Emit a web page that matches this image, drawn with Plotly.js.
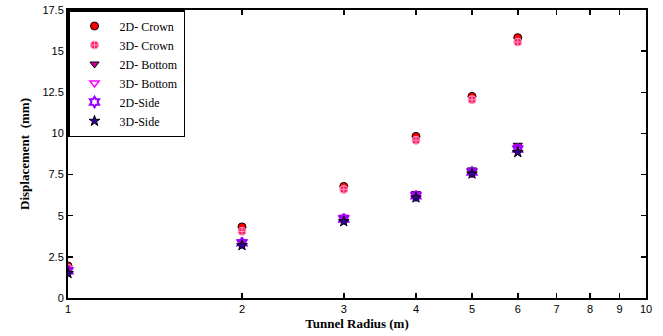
<!DOCTYPE html>
<html>
<head>
<meta charset="utf-8">
<script src="https://cdn.plot.ly/plotly-3.0.1.min.js"></script>
<style>html,body{margin:0;padding:0;background:#fff;}#chart{width:663px;height:336px;}</style>
</head>
<body>
<div id="chart"></div>
<script>
const radius = [1, 2, 3, 4, 5, 6];
const crown2D = [1.95, 4.32, 6.78, 9.82, 12.25, 15.82];
const crown3D = [1.80, 4.05, 6.60, 9.58, 12.05, 15.55];
const bottom2D = [1.70, 3.40, 4.85, 6.35, 7.78, 9.28];
const bottom3D = [1.70, 3.40, 4.90, 6.30, 7.70, 9.15];
const side2D = [1.65, 3.35, 4.80, 6.20, 7.65, 9.05];
const side3D = [1.50, 3.20, 4.65, 6.10, 7.55, 8.85];
const xTicks = [1, 2, 3, 4, 5, 6, 7, 8, 9, 10];
const yTicks = [0, 2.5, 5, 7.5, 10, 12.5, 15, 17.5];
const yTickText = ['0', '2.5', '5', '7.5', '10', '12.5', '15', '17.5'];

const mk = (name, y, symbol, size, color, lineColor, lineW) => ({
  type: 'scatter', mode: 'markers', name: name, x: radius, y: y,
  marker: {symbol: symbol, size: size, color: color, line: {color: lineColor, width: lineW}}
});

const data = [
  mk('2D- Crown', crown2D, 'circle', 8, '#ff0000', '#000000', 1),
  mk('3D- Crown', crown3D, 'circle-cross', 8, '#ff1a66', '#ff9fbf', 1),
  mk('2D- Bottom', bottom2D, 'triangle-down', 8, '#cc0099', '#000000', 1),
  mk('3D- Bottom', bottom3D, 'triangle-down-open', 8, '#ff00ff', '#ff00ff', 1.5),
  mk('2D-Side', side2D, 'hexagram-open', 8, '#9900ff', '#9900ff', 2),
  mk('3D-Side', side3D, 'star', 8, '#330099', '#000000', 1)
];

const layout = {
  width: 663, height: 336,
  margin: {l: 68, r: 17, t: 10, b: 38},
  paper_bgcolor: '#ffffff', plot_bgcolor: '#ffffff',
  showlegend: true,
  legend: {
    x: 0, y: 1, xanchor: 'left', yanchor: 'top',
    bgcolor: '#ffffff', bordercolor: '#000000', borderwidth: 1.5,
    font: {family: 'Liberation Serif, Times New Roman, serif', size: 12, color: '#000'},
    tracegroupgap: 0, itemwidth: 40
  },
  xaxis: {
    type: 'log', range: [0, 1],
    tickvals: xTicks, ticktext: xTicks.map(String),
    ticks: 'inside', ticklen: 5, tickwidth: 1.5, tickcolor: '#000',
    showline: true, linecolor: '#000', linewidth: 2, mirror: 'ticks',
    showgrid: false, zeroline: false,
    tickfont: {family: 'Liberation Sans, Arial, sans-serif', size: 11, color: '#000'},
    title: {text: 'Tunnel Radius (m)', standoff: 5,
      font: {family: 'Liberation Serif, Times New Roman, serif', size: 13, color: '#000', weight: 'bold'}}
  },
  yaxis: {
    range: [0, 17.5],
    tickvals: yTicks, ticktext: yTickText,
    ticks: 'inside', ticklen: 5, tickwidth: 1.5, tickcolor: '#000',
    showline: true, linecolor: '#000', linewidth: 2, mirror: 'ticks',
    showgrid: false, zeroline: false,
    tickfont: {family: 'Liberation Sans, Arial, sans-serif', size: 11, color: '#000'},
    title: {text: 'Displacement  (mm)', standoff: 10,
      font: {family: 'Liberation Serif, Times New Roman, serif', size: 13, color: '#000', weight: 'bold'}}
  }
};

Plotly.newPlot('chart', data, layout, {staticPlot: true, displayModeBar: false});
</script>
</body>
</html>
